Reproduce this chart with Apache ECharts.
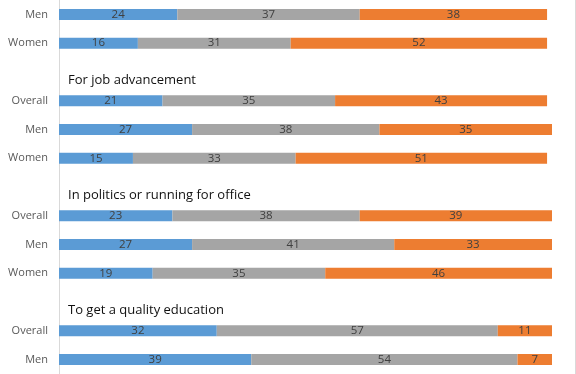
<!DOCTYPE html>
<html><head><meta charset="utf-8">
<script src="https://cdn.jsdelivr.net/npm/echarts@6/dist/echarts.min.js"></script>
<style>html,body{margin:0;padding:0;background:#fff}#c{width:576px;height:374px}</style>
</head><body><div id="c"></div>
<script>
var categories = ['Men','Women','','Overall','Men','Women','','Overall','Men','Women','','Overall','Men'];
var headings = {2:'For job advancement', 6:'In politics or running for office', 10:'To get a quality education'};
var seriesA = [24,16,null,21,27,15,null,23,27,19,null,32,39];
var seriesB = [37,31,null,35,38,33,null,38,41,35,null,57,54];
var seriesC = [38,52,null,43,35,51,null,39,33,46,null,11,7];
var colors = ['#5B9BD5','#A5A5A5','#ED7D31'];
var FONT = '"Open Sans", sans-serif';

var chart = echarts.init(document.getElementById('c'));
function mk(name, data, color){
  return {name:name, type:'bar', stack:'s', data:data, barWidth:11,
    itemStyle:{color:color},
    label:{show:true, position:'inside', color:'#404040', fontSize:11.5, fontFamily:FONT,
      formatter:function(p){return p.value==null?'':p.value;}},
    emphasis:{disabled:true}, animation:false};
}
chart.setOption({
  animation:false,
  grid:{left:59, top:0, width:493, height:376.5, containLabel:false},
  xAxis:{type:'value', min:0, max:100, show:false},
  yAxis:{type:'category', inverse:true, data:categories,
    axisLine:{show:true, lineStyle:{color:'#d9d9d9'}}, axisTick:{show:false},
    axisLabel:{color:'#595959', fontSize:11, fontFamily:FONT, margin:11}},
  series:[mk('A',seriesA,colors[0]), mk('B',seriesB,colors[1]), mk('C',seriesC,colors[2])]
});
var g = [];
Object.keys(headings).forEach(function(k){
  var y = chart.convertToPixel({yAxisIndex:0}, Number(k));
  var x = chart.convertToPixel({xAxisIndex:0}, 0);
  g.push({type:'text', left:x+9, top:y+2, style:{text:headings[k], fill:'#111', font:'13px '+FONT}});
});
g.push({type:'line', shape:{x1:575.5,y1:0,x2:575.5,y2:374}, style:{stroke:'#d9d9d9', lineWidth:1}});
chart.setOption({graphic:g});
</script></body></html>
